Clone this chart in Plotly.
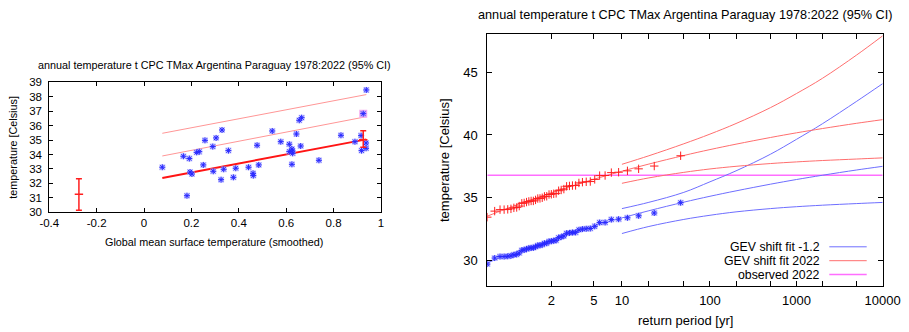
import math
import plotly.graph_objects as go

# ---------------- left panel: scatter vs GMST ----------------
gmst = [0.077, 0.166, 0.181, 0.191, 0.194, 0.202, 0.222, 0.233, 0.250, 0.257,
        0.290, 0.292, 0.304, 0.325, 0.329, 0.336, 0.356, 0.377, 0.387, 0.441,
        0.460, 0.461, 0.477, 0.484, 0.541, 0.577, 0.613, 0.613, 0.624, 0.626,
        0.627, 0.624, 0.643, 0.655, 0.665, 0.661, 0.738, 0.831, 0.890, 0.916,
        0.918, 0.925, 0.938, 0.937, 0.937]
tmax = [33.12, 33.88, 31.15, 33.72, 32.79, 32.65, 34.15, 34.20, 33.28, 34.98,
        34.55, 32.84, 35.15, 32.26, 35.70, 32.98, 34.27, 32.42, 33.05, 33.12,
        32.70, 32.54, 34.64, 33.28, 35.63, 34.89, 34.71, 34.20, 34.38, 34.25,
        34.08, 33.32, 35.42, 36.37, 36.55, 34.59, 33.60, 35.33, 34.89, 35.31,
        34.27, 36.83, 38.47, 34.80, 34.43]
obs2022_gmst = [0.925]
obs2022_t = [36.83]
fit_gmst = [0.077, 0.938]
fit_mu = [32.38, 35.05]
fit_mid = [33.90, 36.62]
fit_top = [35.47, 38.15]
err_gmst = [-0.275, 0.925]
err_center = [31.25, 35.03]
err_lo = [30.14, 34.50]
err_hi = [32.33, 35.65]
left_xticks = [-0.4, -0.2, 0, 0.2, 0.4, 0.6, 0.8, 1]
left_xlabels = ["-0.4", "-0.2", "0", "0.2", "0.4", "0.6", "0.8", "1"]
left_yticks = [30, 31, 32, 33, 34, 35, 36, 37, 38, 39]

# ---------------- right panel: return periods ----------------
ret_period_pts = [46.0, 23.0, 15.333, 11.5, 9.2, 7.667, 6.571, 5.75, 5.111, 4.6,
                  4.182, 3.833, 3.538, 3.286, 3.067, 2.875, 2.706, 2.556, 2.421, 2.3,
                  2.190, 2.091, 2.0, 1.917, 1.84, 1.769, 1.704, 1.643, 1.586, 1.533,
                  1.484, 1.4375, 1.394, 1.353, 1.314, 1.278, 1.243, 1.211, 1.179, 1.15,
                  1.122, 1.095, 1.070, 1.045, 1.0222]
blue_pts = [34.62, 33.80, 33.58, 33.42, 33.31, 33.28, 33.05, 33.04, 32.74, 32.57,
            32.55, 32.52, 32.46, 32.26, 32.25, 32.22, 32.19, 31.97, 31.90, 31.84,
            31.63, 31.60, 31.56, 31.54, 31.40, 31.39, 31.28, 31.23, 31.22, 31.11,
            31.03, 31.03, 30.99, 30.94, 30.87, 30.84, 30.62, 30.51, 30.48, 30.40,
            30.36, 30.34, 30.34, 30.22, 29.74]
red_pts = [38.35, 37.53, 37.31, 37.15, 37.04, 37.01, 36.78, 36.77, 36.47, 36.30,
           36.28, 36.25, 36.19, 35.99, 35.98, 35.95, 35.92, 35.70, 35.63, 35.57,
           35.36, 35.33, 35.29, 35.27, 35.13, 35.12, 35.01, 34.96, 34.95, 34.84,
           34.76, 34.76, 34.72, 34.67, 34.60, 34.57, 34.35, 34.24, 34.21, 34.13,
           34.09, 34.07, 34.07, 33.95, 33.47]
curve_T = [1.0222, 1.1, 1.25, 1.5, 2, 3, 5, 10, 20, 50, 100, 200, 500, 1000, 2000, 5000, 10000]
blue_central = [29.84, 30.38, 30.83, 31.23, 31.70, 32.22, 32.77, 33.41, 33.98, 34.66,
                35.13, 35.56, 36.09, 36.46, 36.80, 37.22, 37.51]
red_central = [33.55, 34.09, 34.54, 34.94, 35.41, 35.93, 36.48, 37.12, 37.69, 38.37,
               38.84, 39.27, 39.80, 40.17, 40.51, 40.93, 41.22]
ci_T = [10, 20, 50, 100, 200, 500, 1000, 2000, 5000, 10000]
blue_upper = [34.15, 34.65, 35.44, 36.28, 37.15, 38.47, 39.65, 40.89, 42.68, 44.08]
blue_lower = [32.17, 32.73, 33.29, 33.62, 33.89, 34.15, 34.30, 34.42, 34.55, 34.64]
red_upper = [37.67, 38.35, 39.30, 40.07, 40.91, 42.17, 43.29, 44.50, 46.36, 47.88]
red_lower = [36.16, 36.59, 37.03, 37.30, 37.51, 37.73, 37.86, 37.97, 38.09, 38.18]
observed_2022 = 36.8
right_tick_T = [2, 5, 10, 20, 50, 100, 200, 500, 1000, 2000, 5000, 10000]
right_tick_labels = ["2", "5", "10", "", "", "100", "", "", "1000", "", "", "10000"]
right_yticks = [30, 35, 40, 45]

title_text = "annual temperature t CPC TMax Argentina Paraguay 1978:2022 (95% CI)"
legend_names = ["GEV shift fit -1.2", "GEV shift fit 2022", "observed 2022"]

# ---------------- helpers ----------------
W, H = 909, 332
FONT = "Liberation Sans, Arial, Helvetica, sans-serif"
RED = "rgb(255,30,30)"
RED_L = "rgb(255,110,110)"
BLUE = "rgb(40,40,255)"
BLUE_L = "rgb(110,110,255)"
MAG = "rgb(255,110,255)"
HALO = "rgba(165,165,255,0.6)"


def gumbel(T):
    return -math.log(-math.log(1.0 - 1.0 / T))


def px(x):
    return x / W


def py(y):
    return 1 - y / H


fig = go.Figure()

# ---- left panel traces ----
for yy, c, w in [(fit_top, "rgb(255,150,150)", 1), (fit_mid, "rgb(255,150,150)", 1), (fit_mu, "rgb(255,20,20)", 2)]:
    fig.add_trace(go.Scatter(x=fit_gmst, y=yy, mode="lines", line=dict(color=c, width=w),
                             xaxis="x", yaxis="y", showlegend=False, hoverinfo="skip"))
fig.add_trace(go.Scatter(x=obs2022_gmst, y=obs2022_t, mode="markers",
                         marker=dict(symbol="square", size=8, color="rgb(245,170,240)"),
                         xaxis="x", yaxis="y", showlegend=False))
fig.add_trace(go.Scatter(x=gmst, y=tmax, mode="markers",
                         marker=dict(symbol="square", size=6, color=HALO),
                         xaxis="x", yaxis="y", showlegend=False, hoverinfo="skip"))
fig.add_trace(go.Scatter(x=gmst, y=tmax, mode="markers",
                         marker=dict(symbol="asterisk-open", size=5, color=BLUE, line=dict(width=1)),
                         xaxis="x", yaxis="y", showlegend=False))
fig.add_trace(go.Scatter(
    x=err_gmst, y=err_center, mode="markers",
    marker=dict(symbol="line-ew-open", size=6, color=RED, line=dict(width=1.5)),
    error_y=dict(type="data", symmetric=False,
                 array=[h - c for h, c in zip(err_hi, err_center)],
                 arrayminus=[c - l for l, c in zip(err_lo, err_center)],
                 color=RED, thickness=1.5, width=3),
    xaxis="x", yaxis="y", showlegend=False))

# ---- right panel traces ----
gx_curve = [gumbel(T) for T in curve_T]
gx_ci = [gumbel(T) for T in ci_T]
gx_pts = [gumbel(T) for T in ret_period_pts]
x_lo = gumbel(min(ret_period_pts))
x_hi = gumbel(max(curve_T))

fig.add_trace(go.Scatter(x=[x_lo, x_hi], y=[observed_2022, observed_2022], mode="lines",
                         line=dict(color=MAG, width=1.5), xaxis="x2", yaxis="y2",
                         showlegend=False))
for yy in [blue_upper, blue_lower]:
    fig.add_trace(go.Scatter(x=gx_ci, y=yy, mode="lines", line=dict(color=BLUE_L, width=1, shape="spline"),
                             xaxis="x2", yaxis="y2", showlegend=False))
for yy in [red_upper, red_lower]:
    fig.add_trace(go.Scatter(x=gx_ci, y=yy, mode="lines", line=dict(color=RED_L, width=1, shape="spline"),
                             xaxis="x2", yaxis="y2", showlegend=False))
fig.add_trace(go.Scatter(x=gx_curve, y=blue_central, mode="lines",
                         line=dict(color=BLUE_L, width=1, shape="spline"),
                         xaxis="x2", yaxis="y2", showlegend=False))
fig.add_trace(go.Scatter(x=gx_curve, y=red_central, mode="lines",
                         line=dict(color=RED_L, width=1, shape="spline"),
                         xaxis="x2", yaxis="y2", showlegend=False))
fig.add_trace(go.Scatter(x=gx_pts, y=red_pts, mode="markers",
                         marker=dict(symbol="cross-thin-open", size=6, color=RED, line=dict(width=1)),
                         xaxis="x2", yaxis="y2", showlegend=False))
fig.add_trace(go.Scatter(x=gx_pts, y=blue_pts, mode="markers",
                         marker=dict(symbol="square", size=6, color=HALO),
                         xaxis="x2", yaxis="y2", showlegend=False, hoverinfo="skip"))
fig.add_trace(go.Scatter(x=gx_pts, y=blue_pts, mode="markers",
                         marker=dict(symbol="asterisk-open", size=5, color=BLUE, line=dict(width=1)),
                         xaxis="x2", yaxis="y2", showlegend=False))

axis_common = dict(showgrid=False, zeroline=False, showline=True, linecolor="black",
                   linewidth=1, mirror="ticks", ticks="inside", tickcolor="black",
                   automargin=False)

fig.update_layout(
    width=W, height=H, margin=dict(l=0, r=0, t=0, b=0, pad=0, autoexpand=False),
    paper_bgcolor="white", plot_bgcolor="white",
    font=dict(family=FONT, color="black"),
    showlegend=False,
    xaxis=dict(domain=[px(49.3), px(381)], range=[-0.4, 1], tickvals=left_xticks,
               ticktext=left_xlabels, ticklen=4, tickfont=dict(size=11.5),
               ticklabelstandoff=0, anchor="y", **axis_common),
    yaxis=dict(domain=[py(212.3), py(82.3)], range=[30, 39], tickvals=left_yticks,
               ticklen=4, tickfont=dict(size=11.5), ticklabelstandoff=4, anchor="x",
               **axis_common),
    xaxis2=dict(domain=[px(487.3), px(882.7)], range=[x_lo, x_hi],
                tickvals=[gumbel(T) for T in right_tick_T], ticktext=right_tick_labels,
                ticklen=5, tickfont=dict(size=13), ticklabelstandoff=2, anchor="y2",
                **axis_common),
    yaxis2=dict(domain=[py(286), py(34.3)], range=[28, 48], tickvals=right_yticks,
                ticklen=5, tickfont=dict(size=13), ticklabelstandoff=6, anchor="x2",
                **axis_common),
)

ann = []
ann.append(dict(text=title_text, x=px(214.7), y=py(65), xref="paper", yref="paper",
                showarrow=False, font=dict(size=10.8), xanchor="center", yanchor="middle"))
ann.append(dict(text=title_text, x=px(685), y=py(15), xref="paper", yref="paper",
                showarrow=False, font=dict(size=12.7), xanchor="center", yanchor="middle"))
ann.append(dict(text="Global mean surface temperature (smoothed)", x=px(214), y=py(241.7),
                xref="paper", yref="paper", showarrow=False, font=dict(size=10.8),
                xanchor="center", yanchor="middle"))
ann.append(dict(text="temperature [Celsius]", x=px(12.7), y=py(147), xref="paper", yref="paper",
                showarrow=False, font=dict(size=10.8), textangle=-90,
                xanchor="center", yanchor="middle"))
ann.append(dict(text="return period [yr]", x=px(685), y=py(320), xref="paper", yref="paper",
                showarrow=False, font=dict(size=13), xanchor="center", yanchor="middle"))
ann.append(dict(text="temperature [Celsius]", x=px(444), y=py(160), xref="paper", yref="paper",
                showarrow=False, font=dict(size=13), textangle=-90,
                xanchor="center", yanchor="middle"))

shapes = []
leg_colors = [BLUE_L, RED_L, MAG]
leg_y = [246.8, 260.7, 274.6]
for name, col, yy in zip(legend_names, leg_colors, leg_y):
    ann.append(dict(text=name, x=px(821), y=py(yy), xref="paper", yref="paper",
                    showarrow=False, font=dict(size=12.3), xanchor="right", yanchor="middle",
                    borderpad=0))
    shapes.append(dict(type="line", xref="paper", yref="paper", x0=px(829.3), x1=px(866.7),
                       y0=py(yy), y1=py(yy), line=dict(color=col, width=1.5 if col == MAG else 1)))

fig.update_layout(annotations=ann, shapes=shapes)
fig.write_html(
    "out.html",
    config={"displayModeBar": False},
    post_script="document.body.style.margin='0';document.body.style.padding='0';"
                "document.documentElement.style.overflow='hidden';",
)
